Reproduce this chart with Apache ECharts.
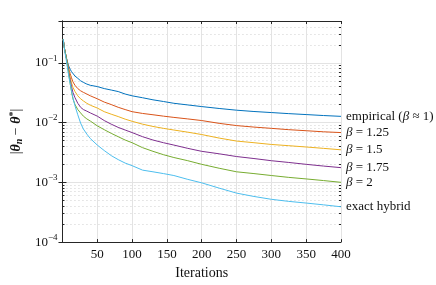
<!DOCTYPE html>
<html><head><meta charset="utf-8">
<script src="https://cdn.jsdelivr.net/npm/echarts@6/dist/echarts.min.js"></script>
<style>html,body{margin:0;padding:0;background:#fff}#c{width:436px;height:285px}</style>
</head><body><div id="c"></div>
<script>
const iterations = [1, 3, 5, 7, 9, 11, 13, 15, 18, 22, 26, 30, 35, 40, 50, 60, 70, 80, 90, 100, 115, 130, 145, 160, 180, 200, 225, 250, 275, 300, 325, 350, 375, 400];
const empirical   = [0.25, 0.17, 0.13, 0.105, 0.088, 0.078, 0.071, 0.066, 0.060, 0.055, 0.050, 0.047, 0.044, 0.042, 0.040, 0.037, 0.035, 0.033, 0.030, 0.028, 0.026, 0.024, 0.0225, 0.021, 0.0197, 0.0185, 0.0172, 0.0161, 0.0153, 0.0147, 0.0141, 0.0136, 0.0131, 0.0127];
const beta125     = [0.25, 0.17, 0.13, 0.10, 0.080, 0.066, 0.056, 0.048, 0.042, 0.037, 0.034, 0.032, 0.030, 0.028, 0.025, 0.022, 0.020, 0.018, 0.0165, 0.0152, 0.0142, 0.0135, 0.0128, 0.0122, 0.0115, 0.0108, 0.0097, 0.0089, 0.0084, 0.0080, 0.0076, 0.0073, 0.0070, 0.0068];
const beta15      = [0.25, 0.17, 0.13, 0.10, 0.075, 0.058, 0.046, 0.039, 0.033, 0.028, 0.025, 0.023, 0.021, 0.0195, 0.0175, 0.0152, 0.0138, 0.0126, 0.0114, 0.0105, 0.0094, 0.0086, 0.0080, 0.0075, 0.0069, 0.0063, 0.0055, 0.0049, 0.0046, 0.0043, 0.0041, 0.0039, 0.0037, 0.0035];
const beta175     = [0.25, 0.17, 0.13, 0.098, 0.070, 0.052, 0.040, 0.032, 0.026, 0.021, 0.018, 0.0165, 0.0155, 0.0145, 0.0128, 0.0108, 0.0094, 0.0083, 0.0075, 0.0068, 0.0058, 0.0051, 0.0046, 0.0042, 0.0037, 0.0033, 0.0030, 0.0027, 0.0025, 0.0023, 0.00215, 0.0020, 0.00187, 0.00176];
const beta2       = [0.25, 0.17, 0.13, 0.096, 0.065, 0.045, 0.033, 0.025, 0.020, 0.0165, 0.0145, 0.0128, 0.0115, 0.0106, 0.0088, 0.0076, 0.0066, 0.0058, 0.0051, 0.0046, 0.0038, 0.0033, 0.0029, 0.0026, 0.0023, 0.0020, 0.00172, 0.0015, 0.0014, 0.0013, 0.00121, 0.00114, 0.00107, 0.0010];
const exactHybrid = [0.25, 0.16, 0.12, 0.085, 0.060, 0.045, 0.034, 0.026, 0.019, 0.0135, 0.0098, 0.0078, 0.0064, 0.0054, 0.0042, 0.0034, 0.0028, 0.0024, 0.0021, 0.0019, 0.0016, 0.0015, 0.0014, 0.0013, 0.00112, 0.00098, 0.0008, 0.00066, 0.00058, 0.00052, 0.00048, 0.00045, 0.00042, 0.00039];

const seriesNames = ['empirical', 'beta125', 'beta15', 'beta175', 'beta2', 'exact'];
const seriesLabels = ['empirical ({i|β} ≈ 1)', '{i|β} = 1.25', '{i|β} = 1.5', '{i|β} = 1.75', '{i|β} = 2', 'exact hybrid'];
const seriesColors = ['#0072BD', '#D95319', '#EDB120', '#7E2F8E', '#77AC30', '#4DBEEE'];
const seriesValues = [empirical, beta125, beta15, beta175, beta2, exactHybrid];

const xTicks = [0, 50, 100, 150, 200, 250, 300, 350, 400];
const yMin = 1e-4, yMax = 0.5;
const decades = [1e-4, 1e-3, 1e-2, 1e-1];
const minorMult = [2, 3, 4, 5, 6, 7, 8, 9];
const minorValues = [];
decades.forEach(d => minorMult.forEach(m => { const v = +(m * d).toPrecision(3); if (v <= yMax) minorValues.push(v); }));

const FONT = 'Liberation Serif';
const axisColor = '#262626';

function yLabel(v) {
  const e = Math.log10(v);
  if (Math.abs(e - Math.round(e)) > 1e-6) return '';
  return '{b|10}{s|−' + Math.abs(Math.round(e)) + '}';
}

const chart = echarts.init(document.getElementById('c'), null, {renderer: 'canvas'});
const series = seriesValues.map((vals, k) => ({
  name: seriesNames[k], type: 'line', xAxisIndex: 0, yAxisIndex: 0,
  data: iterations.map((it, i) => [it, vals[i]]),
  showSymbol: false, symbol: 'none', silent: true, animation: false,
  lineStyle: {color: seriesColors[k], width: 1},
  itemStyle: {color: seriesColors[k]},
  endLabel: {
    show: true, formatter: () => seriesLabels[k], distance: 5,
    color: '#111', fontFamily: FONT, fontSize: 13,
    rich: {i: {fontStyle: 'italic', fontFamily: FONT, fontSize: 13, color: '#111'}}
  }
}));

const option = {
  animation: false,
  grid: {left: 56, right: 95, top: 21, bottom: 37, containLabel: false},
  xAxis: [
    {type: 'value', position: 'bottom', min: 0, max: 400, interval: 50,
     axisLine: {lineStyle: {color: axisColor, width: 1}},
     axisTick: {inside: true, length: 3, lineStyle: {color: axisColor}},
     axisLabel: {showMinLabel: false, color: '#111', fontFamily: FONT, fontSize: 13, margin: 6},
     splitLine: {show: true, lineStyle: {color: '#e3e3e3', width: 1}},
     name: 'Iterations', nameLocation: 'middle', nameGap: 22,
     nameTextStyle: {color: '#111', fontFamily: FONT, fontSize: 14}},
    {type: 'value', position: 'top', min: 0, max: 400, interval: 50,
     axisLine: {show: true, lineStyle: {color: axisColor, width: 1}},
     axisTick: {show: true, inside: true, length: 3, lineStyle: {color: axisColor}},
     axisLabel: {show: false}, splitLine: {show: false}}
  ],
  yAxis: [
    {type: 'log', logBase: 10, min: yMin, max: yMax, position: 'left',
     axisLine: {show: true, lineStyle: {color: axisColor, width: 1}},
     axisTick: {show: true, inside: true, length: 4, lineStyle: {color: axisColor}},
     axisLabel: {formatter: yLabel, color: '#111', margin: 5,
       rich: {b: {fontFamily: FONT, fontSize: 13, color: '#111'},
              s: {fontFamily: FONT, fontSize: 9, color: '#111', verticalAlign: 'top', padding: [0, 0, 9, 0]}}},
     splitLine: {show: true, lineStyle: {color: '#e3e3e3', width: 1}},
     name: '{p||}{t|θ}{n|n}{m| − }{t|θ}{st|*}{p||}', nameLocation: 'middle', nameGap: 30, nameRotate: 90,
     nameTextStyle: {color: '#111', rich: {
       p: {fontFamily: FONT, fontSize: 14, color: '#111'},
       t: {fontFamily: FONT, fontSize: 14, fontStyle: 'italic', fontWeight: 'bold', color: '#111'},
       n: {fontFamily: FONT, fontSize: 10, fontStyle: 'italic', fontWeight: 'bold', color: '#111', verticalAlign: 'bottom', padding: [6, 0, 0, 0]},
       m: {fontFamily: FONT, fontSize: 14, color: '#111'},
       st: {fontFamily: FONT, fontSize: 10, fontWeight: 'bold', color: '#111', verticalAlign: 'top', padding: [0, 0, 6, 0]}
     }}},
    {type: 'log', logBase: 10, min: yMin, max: yMax, position: 'right',
     axisLine: {show: true, lineStyle: {color: axisColor, width: 1}},
     axisTick: {show: true, inside: true, length: 4, lineStyle: {color: axisColor}},
     axisLabel: {show: false}, splitLine: {show: false}},
    {type: 'log', logBase: 10, min: yMin, max: yMax, position: 'left',
     axisLine: {show: false},
     axisTick: {show: true, inside: true, length: 2, customValues: minorValues, lineStyle: {color: axisColor}},
     axisLabel: {show: false},
     splitLine: {show: true, lineStyle: {color: '#cfcfcf', width: 1, type: [1, 3]}}},
    {type: 'log', logBase: 10, min: yMin, max: yMax, position: 'right',
     axisLine: {show: false},
     axisTick: {show: true, inside: true, length: 2, customValues: minorValues, lineStyle: {color: axisColor}},
     axisLabel: {show: false}, splitLine: {show: false}}
  ],
  series: series
};
chart.setOption(option);
</script></body></html>
